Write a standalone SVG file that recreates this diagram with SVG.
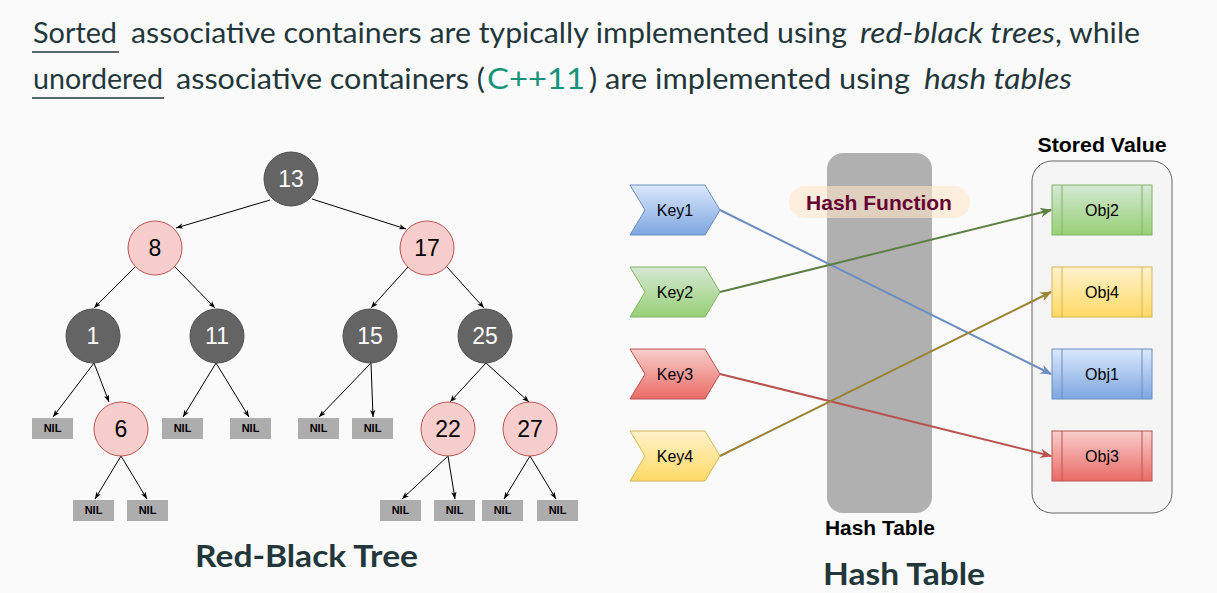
<svg xmlns="http://www.w3.org/2000/svg" width="1217" height="593" viewBox="0 0 1217 593">
<style>
.title{font-family:Lato,"Open Sans","Liberation Sans",sans-serif;font-size:29px;fill:#23373b}
.it{font-style:italic}
.big{font-family:Lato,"Open Sans","Liberation Sans",sans-serif;font-size:30px;font-weight:bold;fill:#23373b}
.bn circle{fill:#646464;stroke:#4f4f4f;stroke-width:1}
.rn circle{fill:#f8cecc;stroke:#b85450;stroke-width:1}
.bn text{fill:#ffffff}
.rn text{fill:#000000}
.node text{font-family:"Liberation Sans",Arial,sans-serif;font-size:23px;text-anchor:middle}
.nil rect{fill:#adadad}
.nil text{font-family:"Liberation Sans",Arial,sans-serif;font-size:11px;font-weight:bold;fill:#000;text-anchor:middle}
.edges line{stroke:#000;stroke-width:1;marker-end:url(#ta)}
.lbl{font-family:"Liberation Sans",Arial,sans-serif;font-size:16px;fill:#000;text-anchor:middle}
.blbl{font-family:"Liberation Sans",Arial,sans-serif;font-weight:bold;fill:#000;text-anchor:middle}
.harr line{stroke-width:2;fill:none}
</style>
<defs>
<marker id="ta" viewBox="0 0 8 6" refX="8" refY="3" markerWidth="7" markerHeight="5.5" markerUnits="userSpaceOnUse" orient="auto">
<path d="M0,0 L8,3 L0,6 L2,3 z" fill="#000"/>
</marker>
<marker id="mb" viewBox="0 0 10 8" refX="9" refY="4" markerWidth="12" markerHeight="10" markerUnits="userSpaceOnUse" orient="auto"><path d="M0,0 L10,4 L0,8 L3,4 z" fill="#6c8ebf"/></marker>
<marker id="mg" viewBox="0 0 10 8" refX="9" refY="4" markerWidth="12" markerHeight="10" markerUnits="userSpaceOnUse" orient="auto"><path d="M0,0 L10,4 L0,8 L3,4 z" fill="#5d7f44"/></marker>
<marker id="mr" viewBox="0 0 10 8" refX="9" refY="4" markerWidth="12" markerHeight="10" markerUnits="userSpaceOnUse" orient="auto"><path d="M0,0 L10,4 L0,8 L3,4 z" fill="#b85450"/></marker>
<marker id="my" viewBox="0 0 10 8" refX="9" refY="4" markerWidth="12" markerHeight="10" markerUnits="userSpaceOnUse" orient="auto"><path d="M0,0 L10,4 L0,8 L3,4 z" fill="#9c8436"/></marker>
<linearGradient id="gb" x1="0" y1="0" x2="0" y2="1"><stop offset="0" stop-color="#dae8fc"/><stop offset="1" stop-color="#7ea6e0"/></linearGradient>
<linearGradient id="gg" x1="0" y1="0" x2="0" y2="1"><stop offset="0" stop-color="#d5e8d4"/><stop offset="1" stop-color="#97d077"/></linearGradient>
<linearGradient id="gr" x1="0" y1="0" x2="0" y2="1"><stop offset="0" stop-color="#f8cecc"/><stop offset="1" stop-color="#ea6b66"/></linearGradient>
<linearGradient id="gy" x1="0" y1="0" x2="0" y2="1"><stop offset="0" stop-color="#fff2cc"/><stop offset="1" stop-color="#ffd966"/></linearGradient>
</defs>
<rect x="0" y="0" width="1217" height="593" fill="#fafafa"/>

<g id="heading">
<text class="title" x="33" y="43" textLength="84" lengthAdjust="spacingAndGlyphs">Sorted</text>
<text class="title" x="131" y="43" textLength="716" lengthAdjust="spacingAndGlyphs">associative containers are typically implemented using</text>
<text class="title it" x="860" y="43" textLength="195" lengthAdjust="spacingAndGlyphs">red-black trees</text>
<text class="title" x="1055" y="43" textLength="85" lengthAdjust="spacingAndGlyphs">, while</text>
<text class="title" x="33" y="89" textLength="130" lengthAdjust="spacingAndGlyphs">unordered</text>
<text class="title" x="176" y="89" textLength="309" lengthAdjust="spacingAndGlyphs">associative containers (</text>
<text class="title" x="487" y="89" textLength="98" lengthAdjust="spacingAndGlyphs" style="fill:#14937a">C++11</text>
<text class="title" x="589" y="89" textLength="321" lengthAdjust="spacingAndGlyphs">) are implemented using</text>
<text class="title it" x="924" y="89" textLength="148" lengthAdjust="spacingAndGlyphs">hash tables</text>
<line x1="32" y1="52" x2="119" y2="52" stroke="#23373b" stroke-width="1.3"/>
<line x1="32" y1="98" x2="164" y2="98" stroke="#23373b" stroke-width="1.3"/>
</g>

<g id="tree-edges" class="edges">
<line x1="270" y1="200" x2="176" y2="228"/>
<line x1="312" y1="199" x2="406" y2="229"/>
<line x1="135" y1="267" x2="94" y2="308"/>
<line x1="175" y1="267" x2="215" y2="308"/>
<line x1="408" y1="267" x2="371" y2="308"/>
<line x1="447" y1="267" x2="484" y2="308"/>
<line x1="94" y1="363" x2="53" y2="417"/>
<line x1="94" y1="363" x2="109" y2="402"/>
<line x1="216" y1="363" x2="183" y2="417"/>
<line x1="216" y1="363" x2="249" y2="417"/>
<line x1="371" y1="363" x2="319" y2="417"/>
<line x1="371" y1="363" x2="373" y2="417"/>
<line x1="486" y1="363" x2="450" y2="402"/>
<line x1="486" y1="363" x2="529" y2="402"/>
<line x1="121" y1="456" x2="95" y2="499"/>
<line x1="121" y1="456" x2="147" y2="499"/>
<line x1="448" y1="456" x2="402" y2="499"/>
<line x1="448" y1="456" x2="455" y2="499"/>
<line x1="530" y1="456" x2="504" y2="499"/>
<line x1="530" y1="456" x2="556" y2="499"/>
</g>

<g id="n13" class="node bn"><circle cx="291" cy="179" r="27"/><text x="291" y="187">13</text></g>
<g id="n8" class="node rn"><circle cx="155" cy="248" r="27"/><text x="155" y="256">8</text></g>
<g id="n17" class="node rn"><circle cx="427" cy="248" r="27"/><text x="427" y="256">17</text></g>
<g id="n1" class="node bn"><circle cx="93" cy="336" r="27"/><text x="93" y="344">1</text></g>
<g id="n11" class="node bn"><circle cx="217" cy="336" r="27"/><text x="217" y="344">11</text></g>
<g id="n15" class="node bn"><circle cx="370" cy="336" r="27"/><text x="370" y="344">15</text></g>
<g id="n25" class="node bn"><circle cx="485" cy="336" r="27"/><text x="485" y="344">25</text></g>
<g id="n6" class="node rn"><circle cx="121" cy="429" r="27"/><text x="121" y="437">6</text></g>
<g id="n22" class="node rn"><circle cx="448" cy="429" r="27"/><text x="448" y="437">22</text></g>
<g id="n27" class="node rn"><circle cx="530" cy="429" r="27"/><text x="530" y="437">27</text></g>

<g id="nil1" class="nil"><rect x="32" y="418" width="41" height="21"/><text x="52.5" y="432">NIL</text></g>
<g id="nil2" class="nil"><rect x="162" y="418" width="41" height="21"/><text x="182.5" y="432">NIL</text></g>
<g id="nil3" class="nil"><rect x="230" y="418" width="41" height="21"/><text x="250.5" y="432">NIL</text></g>
<g id="nil4" class="nil"><rect x="298" y="418" width="41" height="21"/><text x="318.5" y="432">NIL</text></g>
<g id="nil5" class="nil"><rect x="352" y="418" width="41" height="21"/><text x="372.5" y="432">NIL</text></g>
<g id="nil6" class="nil"><rect x="73" y="500" width="41" height="21"/><text x="93.5" y="514">NIL</text></g>
<g id="nil7" class="nil"><rect x="127" y="500" width="41" height="21"/><text x="147.5" y="514">NIL</text></g>
<g id="nil8" class="nil"><rect x="380" y="500" width="41" height="21"/><text x="400.5" y="514">NIL</text></g>
<g id="nil9" class="nil"><rect x="434" y="500" width="41" height="21"/><text x="454.5" y="514">NIL</text></g>
<g id="nil10" class="nil"><rect x="482" y="500" width="41" height="21"/><text x="502.5" y="514">NIL</text></g>
<g id="nil11" class="nil"><rect x="537" y="500" width="41" height="21"/><text x="557.5" y="514">NIL</text></g>

<text class="big" x="195" y="567" textLength="223" lengthAdjust="spacingAndGlyphs">Red-Black Tree</text>

<g id="hashtable">
<rect x="827" y="153" width="105" height="360" rx="16" fill="#b0b0b0"/>
<text class="blbl" x="880" y="535" font-size="20" textLength="110" lengthAdjust="spacingAndGlyphs">Hash Table</text>
</g>
<g id="hashfunction">
<rect x="789" y="186" width="181" height="32" rx="16" fill="#ffe6cc" fill-opacity="0.6"/>
<text class="blbl" x="879" y="210" font-size="21" style="fill:#660033">Hash Function</text>
</g>

<g id="stored">
<rect x="1032" y="161" width="140" height="352" rx="20" fill="#f5f5f5" stroke="#666666" stroke-width="1"/>
<text class="blbl" x="1102" y="152" font-size="21" textLength="129" lengthAdjust="spacingAndGlyphs">Stored Value</text>
</g>

<g id="key1"><path d="M630,185 L705,185 L720,210 L705,235 L630,235 L645,210 Z" fill="url(#gb)" stroke="#6c8ebf"/><text class="lbl" x="675" y="216">Key1</text></g>
<g id="key2"><path d="M630,267 L705,267 L720,292 L705,317 L630,317 L645,292 Z" fill="url(#gg)" stroke="#82b366"/><text class="lbl" x="675" y="298">Key2</text></g>
<g id="key3"><path d="M630,349 L705,349 L720,374 L705,399 L630,399 L645,374 Z" fill="url(#gr)" stroke="#b85450"/><text class="lbl" x="675" y="380">Key3</text></g>
<g id="key4"><path d="M630,431 L705,431 L720,456 L705,481 L630,481 L645,456 Z" fill="url(#gy)" stroke="#d6b656"/><text class="lbl" x="675" y="462">Key4</text></g>

<g id="obj2"><rect x="1052" y="185" width="100" height="50" fill="url(#gg)" stroke="#82b366"/><line x1="1062" y1="185" x2="1062" y2="235" stroke="#82b366"/><line x1="1142" y1="185" x2="1142" y2="235" stroke="#82b366"/><text class="lbl" x="1102" y="216">Obj2</text></g>
<g id="obj4"><rect x="1052" y="267" width="100" height="50" fill="url(#gy)" stroke="#d6b656"/><line x1="1062" y1="267" x2="1062" y2="317" stroke="#d6b656"/><line x1="1142" y1="267" x2="1142" y2="317" stroke="#d6b656"/><text class="lbl" x="1102" y="298">Obj4</text></g>
<g id="obj1"><rect x="1052" y="349" width="100" height="50" fill="url(#gb)" stroke="#6c8ebf"/><line x1="1062" y1="349" x2="1062" y2="399" stroke="#6c8ebf"/><line x1="1142" y1="349" x2="1142" y2="399" stroke="#6c8ebf"/><text class="lbl" x="1102" y="380">Obj1</text></g>
<g id="obj3"><rect x="1052" y="431" width="100" height="50" fill="url(#gr)" stroke="#b85450"/><line x1="1062" y1="431" x2="1062" y2="481" stroke="#b85450"/><line x1="1142" y1="431" x2="1142" y2="481" stroke="#b85450"/><text class="lbl" x="1102" y="462">Obj3</text></g>

<g id="hash-connectors" class="harr">
<line x1="720" y1="210" x2="1051" y2="374" stroke="#6c8ebf" marker-end="url(#mb)"/>
<line x1="720" y1="292" x2="1051" y2="210" stroke="#5d7f44" marker-end="url(#mg)"/>
<line x1="720" y1="374" x2="1051" y2="456" stroke="#b85450" marker-end="url(#mr)"/>
<line x1="720" y1="456" x2="1051" y2="292" stroke="#9c8436" marker-end="url(#my)"/>
</g>

<text class="big" x="823" y="585" textLength="162" lengthAdjust="spacingAndGlyphs">Hash Table</text>
</svg>
